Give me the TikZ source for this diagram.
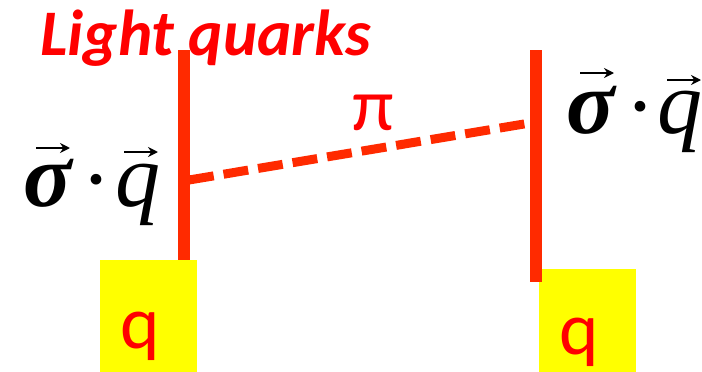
\documentclass[tikz,border=0pt]{standalone}
\usepackage{fontspec}
\setmainfont{Liberation Serif}
\newfontfamily\calib{Carlito}
\usetikzlibrary{arrows.meta}
\definecolor{linered}{HTML}{FF2A00}
\definecolor{txtred}{HTML}{FF0000}
\definecolor{boxyellow}{HTML}{FFFF00}
\begin{document}
\begin{tikzpicture}[x=1pt,y=-1pt,
  qline/.style={draw=linered,line width=12pt},
  pionline/.style={draw=linered,line width=9pt,dash pattern=on 25pt off 10pt},
  redtxt/.style={text=txtred,inner sep=0pt},
  sym/.style={inner sep=0pt,anchor=base,font=\fontsize{90}{90}\selectfont\itshape},
  sigsym/.style={inner sep=0pt,anchor=base,font=\fontsize{90}{90}\selectfont\bfseries\itshape},
  dotsym/.style={inner sep=0pt,anchor=base,font=\fontsize{90}{90}\selectfont},
  vecarrow/.style={draw=black,line width=2pt,-{Stealth[length=10pt,width=10pt]}}]
\useasboundingbox (0,0) rectangle (702,372);
% yellow boxes
\fill[boxyellow] (100,260) rectangle (197,372);
\fill[boxyellow] (539,269) rectangle (636,372);
\node[redtxt,anchor=base,font=\calib\fontsize{75}{75}\selectfont] (qL) at (140,348) {q};
\node[redtxt,anchor=base,font=\calib\fontsize{75}{75}\selectfont] (qR) at (579,354) {q};
% quark lines
\coordinate (Lt) at (183.5,50);
\coordinate (Lb) at (183.5,260);
\coordinate (Rt) at (536,50);
\coordinate (Rb) at (536,282);
\coordinate (La) at (189,180);
\coordinate (Ra) at (530,123);
\draw[qline] (Lt) -- (Lb);
\draw[qline] (Rt) -- (Rb);
\draw[pionline] (La) -- (Ra);
% labels
\node[redtxt,anchor=base west,font=\calib\bfseries\itshape\fontsize{65}{65}\selectfont] (title) at (40,55) {Light quarks};
\node[redtxt,anchor=base,font=\calib\fontsize{75}{75}\selectfont] (pi) at (373,130) {π};
% left sigma . q
\node[sigsym] (sigL) at (48,206) {σ};
\node[dotsym] (dotL) at (96,209) {·};
\node[sym] (qvL) at (138,206) {q};
\coordinate (aL1) at (36,148);
\coordinate (aL2) at (70,148);
\coordinate (aL3) at (124,152);
\coordinate (aL4) at (158,152);
\draw[vecarrow] (aL1) -- (aL2);
\draw[vecarrow] (aL3) -- (aL4);
% right sigma . q
\node[sigsym] (sigR) at (591,133) {σ};
\node[dotsym] (dotR) at (640,136) {·};
\node[sym] (qvR) at (680,133) {q};
\coordinate (aR1) at (580,73);
\coordinate (aR2) at (614,73);
\coordinate (aR3) at (667,80);
\coordinate (aR4) at (701,80);
\draw[vecarrow] (aR1) -- (aR2);
\draw[vecarrow] (aR3) -- (aR4);
\end{tikzpicture}
\end{document}
